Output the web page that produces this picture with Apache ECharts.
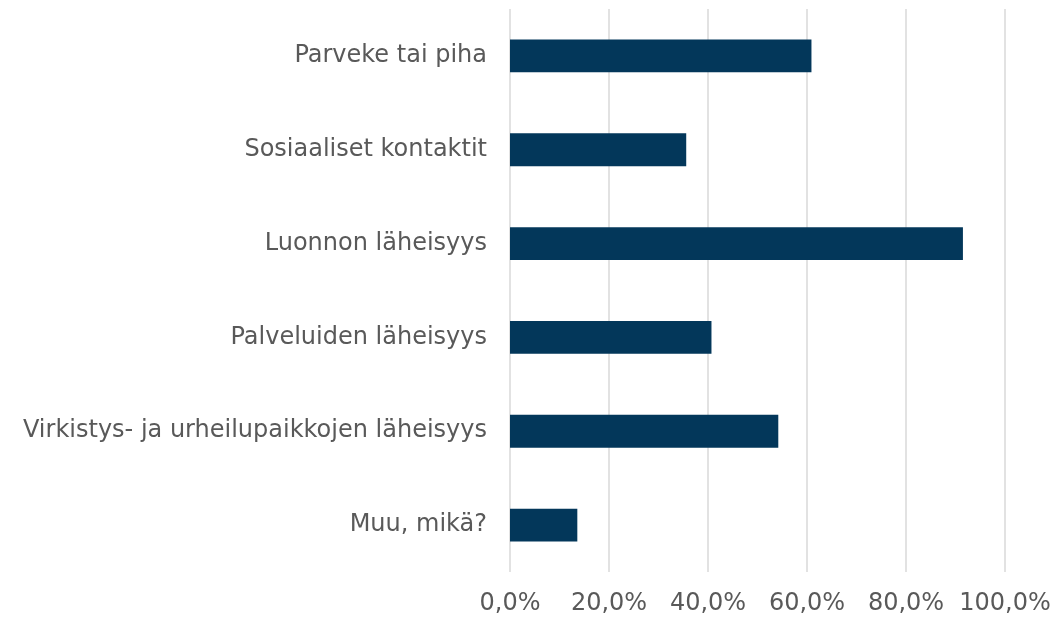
<!DOCTYPE html>
<html>
<head>
<meta charset="utf-8">
<script src="https://cdn.jsdelivr.net/npm/echarts@6/dist/echarts.min.js"></script>
<style>
  html, body { margin: 0; padding: 0; background: #fff; }
  #chart { width: 1056px; height: 618px; }
</style>
</head>
<body>
<div id="chart"></div>
<script>
// kategoriat ylhäältä alas
const categories = [
  'Parveke tai piha',
  'Sosiaaliset kontaktit',
  'Luonnon läheisyys',
  'Palveluiden läheisyys',
  'Virkistys- ja urheilupaikkojen läheisyys',
  'Muu, mikä?'
]
const values = [60.9, 35.6, 91.5, 40.7, 54.2, 13.6]
const xTicks = [0, 20, 40, 60, 80, 100]

const myChart = echarts.init(document.getElementById('chart'))
const textColor = '#595959'
const font = 'DejaVu Sans, Verdana, sans-serif'

myChart.setOption({
  animation: false,
  grid: {
    left: 510,
    right: 51,
    top: 9,
    bottom: 46
  },
  xAxis: {
    type: 'value',
    min: xTicks[0],
    max: xTicks[xTicks.length - 1],
    interval: 20,
    axisLine: { show: false },
    axisTick: { show: false },
    axisLabel: {
      color: textColor,
      fontFamily: font,
      fontSize: 24,
      margin: 20,
      formatter: (v) => v.toFixed(1).replace('.', ',') + '%'
    },
    splitLine: {
      lineStyle: { color: '#d9d9d9', width: 1.5 }
    }
  },
  yAxis: {
    type: 'category',
    data: categories,
    inverse: true,
    axisLine: { show: false },
    axisTick: { show: false },
    axisLabel: {
      color: textColor,
      fontFamily: font,
      fontSize: 24,
      margin: 23
    }
  },
  series: [
    {
      type: 'bar',
      data: values,
      barWidth: '35%',
      itemStyle: { color: '#03375a' }
    }
  ]
})
</script>
</body>
</html>
